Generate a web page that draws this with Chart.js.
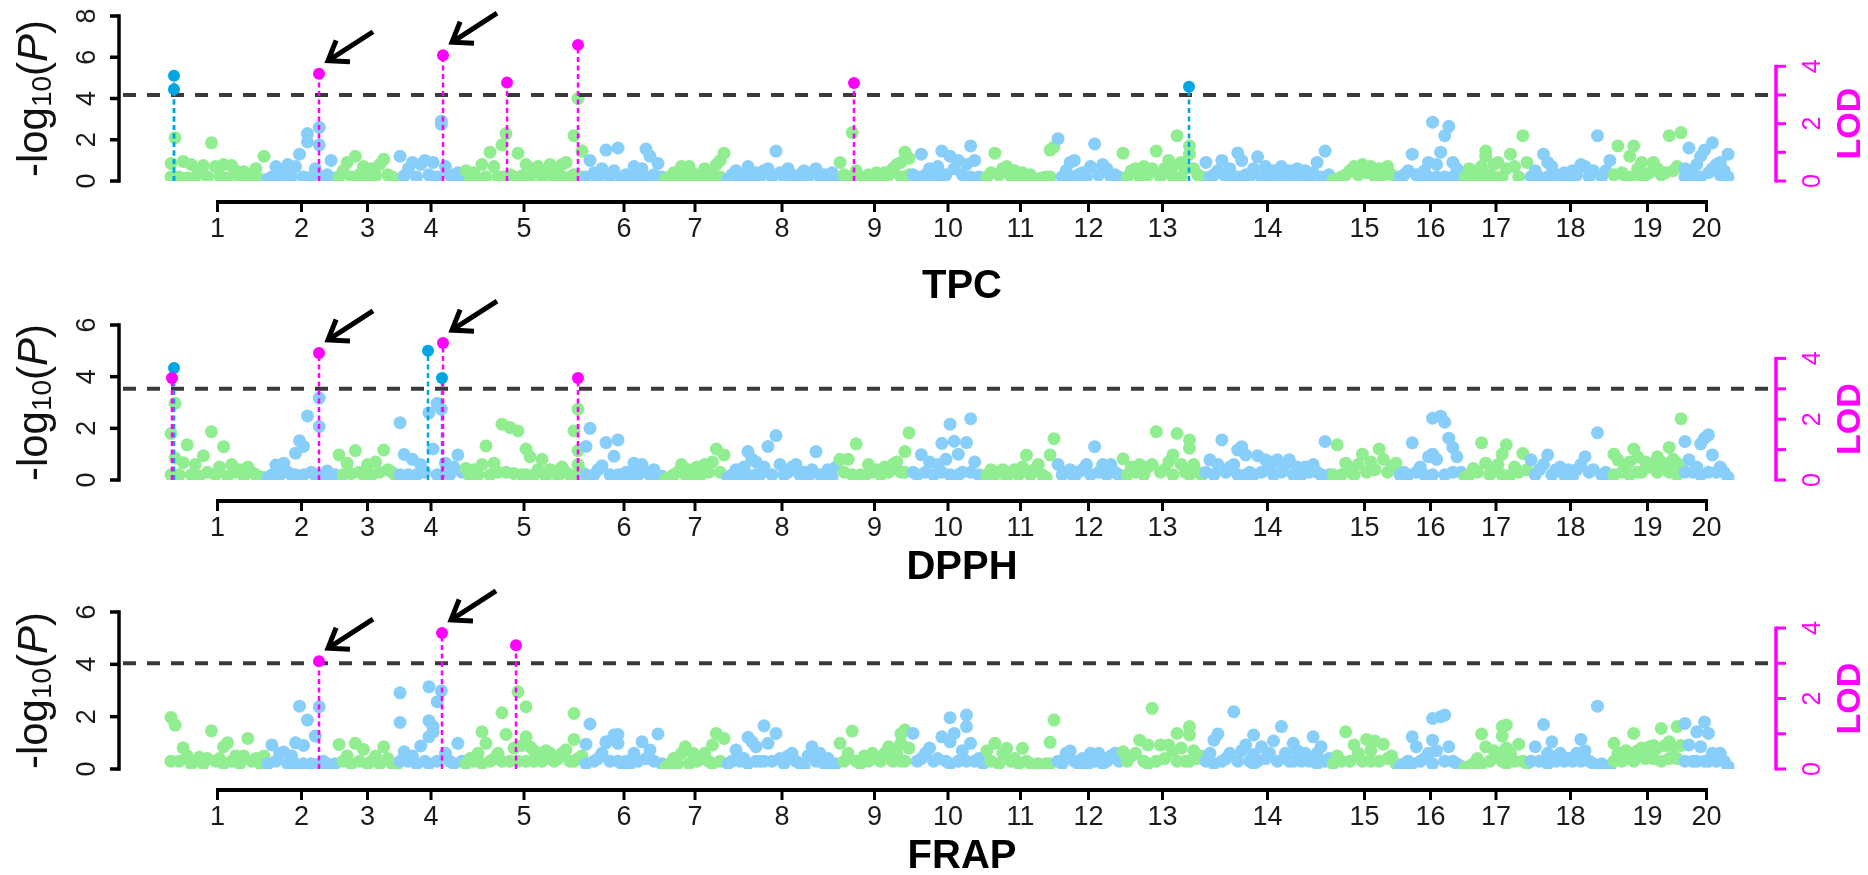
<!DOCTYPE html>
<html>
<head>
<meta charset="utf-8">
<title>Manhattan plots: TPC, DPPH, FRAP</title>
<script src="https://cdn.jsdelivr.net/npm/chart.js@4.4.1/dist/chart.umd.min.js"></script>
<style>
  html, body { margin: 0; padding: 0; background: #fff; }
  #wrap { position: relative; width: 1868px; height: 875px; overflow: hidden; }
  #wrap canvas { position: absolute; left: 0; }
</style>
</head>
<body>
<div id="wrap">
  <canvas id="tpcChart" width="1868" height="310" style="top:0px"></canvas>
  <canvas id="dpphChart" width="1868" height="300" style="top:290px"></canvas>
  <canvas id="frapChart" width="1868" height="295" style="top:580px"></canvas>
</div>
<script>
// chromosomes (lengths in Mb)
const chrLabels = ['1', '2', '3', '4', '5', '6', '7', '8', '9', '10',
  '11', '12', '13', '14', '15', '16', '17', '18', '19', '20'];
const chrLengths = [97, 71, 61, 66, 120, 80, 62, 112, 73, 74, 71, 65, 83, 127, 67, 65, 66, 83, 71, 47];

// -log10(P) per chromosome, SNPs in map order (a nested list = SNPs at about the same spot)
const tpcScores = [
  [[0.85, 0.2], 2.1, 0.2, 0.95, 0.15, 0.8, 0.2, 0.6, 0.75, 0.2, 1.85, 0.7, 0.25, 0.8, 0.15, 0.75, 0.5, 0.2, 0.45, 0.1, 0.2, 0.6, 0.1, 1.2],
  [0.1, 0.2, 0.7, 0.15, 0.5, 0.8, 0.2, 0.7, 1.3, 0.2, [2.3, 1.9], 0.2, 0.6, [2.6, 1.75], 0.2, 0.3, 1.0, 0.15],
  [0.2, 0.5, 0.9, 0.2, 1.2, 0.3, 0.7, 0.2, 0.6, 0.25, 0.8, 1.05, 0.3, 0.2, 0.1],
  [1.2, 0.25, 0.6, 0.9, 0.2, 0.8, 1.0, 0.3, 0.9, 0.2, [2.9, 2.75], 0.7, 0.3, 0.2, 0.4, 0.2],
  [0.5, 0.15, 0.4, 0.1, 0.8, 0.2, 1.4, 0.7, 0.2, [1.75, 0.2], 2.3, 0.3, 0.2, 1.35, 0.25, 0.8, 0.2, 0.6, 0.7, 0.2, 0.5, 0.8, 0.15, 0.5, [0.8, 0.2], 0.9, 0.2, [2.2, 0.3], 4.0, [1.45, 0.2]],
  [0.2, 1.0, 0.4, 0.15, 0.6, 1.5, 0.2, 0.5, 1.6, 0.1, 0.3, 0.2, 0.7, 0.2, 0.6, [1.55, 0.2], 1.2, 0.3, 0.85, 0.2],
  [0.1, 0.2, 0.4, 0.2, 0.7, 0.3, 0.7, 0.2, 0.3, 0.15, 0.6, 0.25, 0.3, 0.8, [1.0, 0.2], 1.35],
  [0.1, 0.3, 0.5, 0.2, 0.3, 0.7, 0.1, 0.4, 0.2, 0.5, 0.6, 0.2, 1.45, 0.4, 0.2, 0.6, 0.3, 0.1, 0.3, 0.5, 0.2, 0.4, 0.6, 0.2, 0.3, 0.1, 0.4, 0.2],
  [0.9, 0.3, 0.2, 2.35, 0.5, 0.2, 0.1, 0.3, 0.15, 0.4, 0.2, 0.4, 0.3, 0.6, 0.8, [0.9, 0.2], 1.4, [1.1, 0.3]],
  [0.3, 0.2, 1.3, 0.3, 0.6, 0.2, 0.7, [1.45, 0.2], 0.3, 1.2, 0.6, 1.0, 0.3, 0.8, [1.7, 0.2], 1.0, 0.2, 0.15],
  [0.2, 0.4, 1.35, 0.3, 0.6, 0.7, 0.25, 0.5, 0.2, 0.4, 0.15, 0.3, 0.1, 0.1, 0.15, 0.2, [1.5, 0.2], 1.65],
  [2.05, 0.2, 0.5, [0.9, 0.2], 1.0, 0.3, 0.4, 0.2, 0.7, 1.8, 0.3, 0.8, 0.6, 0.2, 0.3, 0.2],
  [1.35, 0.2, 0.5, 0.6, 0.2, 0.7, 0.3, 0.6, 1.45, 0.2, 0.6, 1.0, [0.7, 0.2], 2.2, [0.9, 0.2], 0.6, [1.7, 1.3], 0.6, 0.3, 0.2],
  [0.9, 0.2, 0.3, 0.5, 1.0, 0.2, 0.6, 0.2, [1.36, 0.2], 1.0, 0.3, 0.2, 0.6, 1.17, 0.2, 0.7, 0.2, 0.5, 0.3, 0.7, 0.2, 0.5, 0.3, 0.6, 0.2, 0.5, 0.1, 0.4, 0.9, 0.2, 1.45, 0.3],
  [0.05, 0.1, 0.2, 0.3, 0.5, 0.7, 0.3, 0.8, 0.4, 0.7, 0.2, 0.6, 0.3, 0.7, 0.3, 0.1],
  [0.2, 0.3, 0.5, 1.3, 0.3, 0.2, 0.5, [0.9, 0.2], 2.85, [0.8, 0.2], 1.4, [2.2, 0.2], 2.65, [0.9, 0.2], 0.6, 0.2],
  [0.2, 0.6, 0.2, 0.5, [0.7, 0.2], [1.45, 1.2], 0.3, [0.8, 0.2], 0.9, 0.2, 0.6, 1.3, 0.7, 0.2, 2.2, 0.9],
  [0.2, 0.5, 0.2, 1.3, [0.9, 0.2], 0.7, 0.3, 0.2, 0.4, 0.15, 0.5, 0.3, 0.8, 0.7, 0.2, 0.5, 2.2, 0.2, 0.5, 1.0],
  [0.3, 1.7, 0.4, 0.2, [1.2, 0.2], 1.7, 0.6, [0.9, 0.2], 0.3, 0.4, 0.9, 0.6, 0.3, 0.4, 2.2, 0.5, 0.7, 2.35],
  [[0.6, 0.2], [1.6, 0.5], 0.3, 0.8, [1.2, 0.2], 1.5, 0.4, [1.85, 0.6], 0.8, [0.9, 0.3], 0.5, [1.3, 0.2]]
];
const dpphScores = [
  [[1.8, 0.2], [2.97, 0.85], 0.2, 0.67, 1.36, 0.2, 0.6, 0.15, 0.94, 0.3, 1.87, 0.2, 0.5, 1.29, 0.15, 0.6, 0.3, 0.4, 0.15, 0.5, 0.3, 0.2, 0.1, 0.1],
  [0.1, 0.2, 0.58, 0.2, 0.65, 0.3, 0.2, [1.04, 0.2], 1.52, [1.3, 0.2], 2.48, 0.3, 0.2, [3.17, 2.07], 0.2, 0.35, 0.1, 0.2],
  [0.97, 0.2, 0.65, 0.25, 1.14, 0.3, 0.2, 0.6, 0.2, 0.7, 0.3, 1.16, 0.4, 0.3, 0.15],
  [[2.22, 0.2], 0.99, 0.2, 0.8, 0.2, 0.6, 0.3, 2.6, 1.2, [2.97, 0.2], 2.74, 0.65, 0.2, 0.5, 0.97, 0.3],
  [0.45, 0.15, 0.4, 0.2, 0.6, 1.32, 0.2, 0.65, 0.3, 2.16, 0.3, 2.03, 0.25, 1.9, 0.2, [1.2, 0.2], 0.9, 0.2, 0.4, 0.8, 0.15, 0.4, 0.35, 0.15, 0.5, 0.3, 0.2, 1.9, [2.74, 1.14, 0.6, 0.2], 0.3],
  [[1.3, 0.2], 2.0, 0.2, 0.4, 0.55, 1.45, 0.2, 0.92, [1.55, 0.2], 0.2, 0.3, 0.2, 0.65, 0.2, 0.6, 0.3, 0.2, 0.4, 0.1, 0.15],
  [0.05, 0.1, 0.2, 0.3, 0.6, 0.2, 0.4, 0.2, 0.5, 0.2, 0.6, 0.3, 0.7, 1.2, 0.3, 0.97],
  [0.1, 0.2, 0.4, 0.15, 0.5, [1.1, 0.2], 0.8, [0.7, 0.2], 0.2, 0.5, 1.3, 0.2, 1.72, 0.6, 0.2, 0.3, 0.5, 0.6, 0.2, 0.3, 0.1, 0.4, 1.1, 0.2, 0.1, 0.4, 0.1, 0.5],
  [0.8, 0.3, 0.8, 0.2, 1.4, 0.2, 0.15, 0.6, 0.3, 0.4, 0.2, 0.5, 0.3, 0.6, 0.7, 0.3, [1.1, 0.3], 1.83],
  [0.3, 0.2, 0.98, 0.3, 0.7, 0.2, 0.6, [1.42, 0.3], 0.8, [2.16, 0.2], 1.5, [1.0, 0.2], 0.3, 1.45, [2.37, 0.3], 0.7, 0.2, 0.15],
  [0.2, 0.4, 0.2, 0.3, 0.4, 0.1, 0.3, 0.4, 0.2, 0.5, 0.96, 0.2, 0.4, 0.6, 0.2, 0.1, 0.97, 1.6],
  [0.6, 0.2, 0.3, 0.4, 0.1, 0.3, 0.4, 0.6, 0.2, 1.29, 0.3, 0.6, 0.2, 0.6, 0.3, 0.2],
  [0.82, 0.2, 0.5, 0.3, 0.6, 0.2, 0.5, 0.6, 1.87, 0.3, 0.4, 0.7, [0.97, 0.2], 1.8, 0.6, 0.3, [1.55, 1.23, 0.2], 0.6, 0.3, 0.2],
  [0.3, 0.78, 0.2, 0.6, 1.55, 0.3, 0.5, 0.6, [1.16, 0.2], 1.29, [0.97, 0.2], 0.3, 0.2, 0.94, 0.3, 0.78, 0.4, [0.7, 0.2], 0.78, 0.3, 0.6, 0.78, 0.2, 0.5, 0.2, 0.5, 0.3, 0.6, 0.3, 0.2, 1.49, 0.2],
  [0.2, 1.36, 0.2, 0.65, 0.3, 0.2, 0.6, 1.0, 0.3, 0.7, 0.4, 1.2, 0.8, 0.3, 0.5, 0.65],
  [0.2, 0.3, 0.2, 1.44, 0.3, 0.5, 0.2, 0.9, [2.39, 1.0, 0.2], 0.8, 2.47, [2.24, 0.2], 1.62, [1.26, 0.3], 0.9, 0.3],
  [0.1, 0.2, 0.45, 0.3, 1.44, 0.65, 0.2, 0.4, 0.6, [1.0, 0.2], 1.36, 0.2, 0.5, 0.3, 1.03, 0.4],
  [0.78, 0.2, 0.4, 0.6, 0.97, 0.2, 0.4, 0.5, 0.2, 0.4, 0.15, 0.4, 0.6, 0.9, 0.3, 0.4, 1.83, 0.2, 0.3, 0.1],
  [[1.0, 0.2], 0.78, 0.3, 0.6, [0.7, 0.2], 1.2, [0.9, 0.3], 0.3, 0.7, 0.5, 0.6, [0.9, 0.3], 0.7, 0.6, [1.26, 0.3], 0.8, [0.65, 0.2], [2.37, 0.4]],
  [[1.49, 0.3], 0.78, 0.3, 0.5, [1.4, 0.2], 1.62, [1.75, 0.3], 0.97, 0.3, 0.5, 0.3, 0.1]
];
const frapScores = [
  [[1.97, 0.3], 1.68, 0.3, 0.81, 0.5, 0.2, 0.3, 0.45, 0.2, 0.4, 1.46, 0.3, 0.4, [0.85, 0.2], 1.0, 0.3, 0.5, 0.2, 0.5, 1.17, 0.3, 0.4, 0.2, 0.5],
  [0.2, 0.92, 0.3, 0.6, 0.65, 0.2, 0.5, [1.0, 0.2], 2.4, [0.9, 0.2], 1.87, 0.2, 1.26, [2.38, 0.2], 0.3, 0.2, 0.1, 0.2],
  [0.94, 0.3, 0.5, 0.2, 0.98, 0.3, 0.75, 0.2, 0.3, 0.5, 0.2, 0.85, 0.4, 0.2, 0.1],
  [[2.91, 1.78, 0.3], 0.66, 0.3, 0.5, 0.2, 0.88, 0.3, [3.14, 1.84, 1.23, 0.2], [1.62, 1.42], [2.57, 0.3], 2.99, 0.6, 0.3, 0.2, 0.98, 0.3],
  [0.2, 0.4, 0.3, 0.6, [1.42, 0.2], 0.98, 0.3, 0.4, 0.6, [2.15, 0.3], 1.32, 0.3, 0.8, [2.95, 0.3], 0.9, [2.38, 1.23, 0.3], 0.85, [0.7, 0.3], 0.6, 0.3, 0.7, 0.6, 0.3, 0.4, 0.6, 0.73, 0.3, [2.12, 1.13, 0.3], 0.4, 0.5],
  [[0.95, 0.2], 1.72, 0.3, 0.4, 0.6, [1.0, 1.04], 0.3, 1.3, [1.32, 0.98, 0.3], 0.2, 0.3, 0.2, 0.6, 0.3, 1.04, 0.4, 0.73, 0.3, 1.34, 0.2],
  [0.1, 0.2, 0.4, 0.2, 0.6, 0.85, 0.2, 0.6, 0.3, 0.4, 0.6, 0.3, [0.92, 0.2], 1.36, 0.3, 1.17],
  [0.2, 0.3, 0.73, 0.3, 0.4, [1.21, 0.2], 1.04, [0.85, 0.3], 0.3, [1.65, 0.3], 0.98, 0.3, 1.36, 0.4, 0.2, 0.5, 0.6, 0.3, 0.2, 0.1, 0.5, 0.85, 0.3, 0.6, 0.2, 0.4, 0.1, 0.2],
  [0.98, 0.3, 0.6, 1.45, 0.3, 0.2, 0.5, 0.3, 0.6, 0.4, 0.3, 0.6, 0.85, 0.3, 0.6, [0.98, 1.34, 0.3], [1.49, 0.3], 0.8],
  [1.36, 0.3, 0.4, 0.6, 0.8, 0.3, 0.4, 1.23, 0.3, [1.96, 1.04, 0.2], 1.36, 0.3, 0.7, [1.62, 2.06, 0.3], 0.98, 0.3, 0.4, 0.2],
  [0.7, 0.3, 0.98, 0.2, 0.6, 0.79, 0.3, 0.4, 0.2, 0.79, 0.3, 0.2, 0.1, 0.2, 0.1, 0.2, [1.02, 0.2], 1.87],
  [0.3, 0.2, 0.6, 0.69, 0.3, 0.2, 0.4, 0.1, 0.6, 0.3, 0.6, 0.2, 0.3, 0.5, 0.6, 0.3],
  [0.66, 0.3, 0.5, 0.6, 1.1, 0.3, [0.92, 0.2], 2.32, 0.3, 0.92, 0.4, 0.92, 0.7, [1.36, 0.3], 0.8, 0.3, [1.62, 1.3, 0.3], 0.7, 0.4, 0.5],
  [0.3, 0.6, [1.1, 0.2], 1.34, 0.3, 0.4, 0.6, 2.19, 0.3, 0.7, 0.92, 0.3, [1.3, 0.55, 0.2], 0.3, 0.85, 0.4, 0.6, 1.07, 0.3, 1.62, 0.6, 0.3, [0.98, 0.3], 0.7, 0.3, 0.6, 0.3, 1.23, [0.6, 0.2], 0.85, 0.3, 0.4],
  [0.2, 0.5, 0.3, 1.42, 0.3, 0.92, 0.6, 0.3, 1.13, [0.7, 0.3], 1.07, 0.3, 0.95, 0.4, 0.5, 0.2],
  [0.1, 0.2, 0.3, [1.23, 0.2], 0.85, 0.3, 0.4, 0.6, [1.93, 1.1, 0.2], 0.7, 2.0, [2.06, 0.3], 0.85, 0.3, 0.2, 0.1],
  [0.05, 0.1, 0.2, 0.4, [1.34, 0.2], 0.85, 0.3, 0.7, 0.6, [1.62, 1.26, 0.3], [1.68, 0.8, 0.2], 0.6, 0.3, 0.95, 0.3, 0.2],
  [0.3, 0.85, 0.3, 1.7, [0.6, 0.2], 1.04, 0.3, 0.6, 0.3, 0.4, 0.3, 0.6, [1.13, 0.3], 0.7, 0.3, 0.2, 2.4, 0.2, 0.1, 0.05],
  [[0.98, 0.3], 0.6, 0.3, 0.7, 0.6, [1.36, 0.3], 0.7, 0.8, 0.4, 0.85, [0.9, 0.4], 0.8, [1.55, 0.3], 0.9, [1.04, 0.4], 0.8, [1.62, 0.4], 0.9],
  [[1.74, 0.3], 0.92, 0.3, [1.42, 0.3], 0.85, [1.8, 0.3], [1.36, 0.3], 0.6, 0.3, 0.6, 0.3, 0.1]
];

// significant hits: chromosome, position in chromosome (Mb), -log10(P), kind (g = GWAS, q = QTL overlap)
const tpcPeakChr = [1, 1, 13, 2, 4, 5, 5, 9];
const tpcPeakPos = [5, 5, 68, 53, 45, 43, 114, 16];
const tpcPeakVal = [5.1, 4.45, 4.57, 5.2, 6.1, 4.77, 6.6, 4.75];
const tpcPeakKind = ['g', 'g', 'g', 'q', 'q', 'q', 'q', 'q'];
const tpcArrows = [3, 4];

const dpphPeakChr = [1, 4, 4, 1, 2, 4, 5];
const dpphPeakPos = [5, 30, 44, 3, 53, 45, 114];
const dpphPeakVal = [4.34, 5.0, 3.95, 3.95, 4.92, 5.3, 3.95];
const dpphPeakKind = ['g', 'g', 'g', 'q', 'q', 'q', 'q'];
const dpphArrows = [4, 5];

const frapPeakChr = [2, 4, 5];
const frapPeakPos = [53, 44, 52];
const frapPeakVal = [4.12, 5.2, 4.73];
const frapPeakKind = ['q', 'q', 'q'];
const frapArrows = [0, 1];

// thresholds and tick labels
const tpcThreshold = 4.17;
const dpphThreshold = 3.53;
const frapThreshold = 4.04;
const lodThreshold = 3;
const tpcTicks = [0, 2, 4, 6, 8];
const dpphTicks = [0, 2, 4, 6];
const frapTicks = [0, 2, 4, 6];
const lodTicks = [0, 1, 2, 3, 4];
const lodLabels = [0, 2, 4];

const FONT = '"Liberation Sans", Arial, sans-serif';
const SNP_GREEN = '#90EE90';
const SNP_BLUE = '#87CEFA';
const QTL_PINK = '#FF00FF';
const GWAS_BLUE = '#00A6E4';

const chrStarts = [];
chrLengths.reduce((acc, len) => { chrStarts.push(acc); return acc + len; }, 0);
const genomeLength = chrLengths.reduce((a, b) => a + b, 0);
const chrMids = chrLengths.map((len, i) => chrStarts[i] + len / 2);

function buildSnps(scores) {
  const pts = [];
  const cols = [];
  scores.forEach((chr, c) => {
    const step = chrLengths[c] / chr.length;
    chr.forEach((slot, i) => {
      const x = chrStarts[c] + (i + 0.5) * step;
      [].concat(slot).forEach(v => {
        pts.push({ x, y: v });
        cols.push(c % 2 ? SNP_BLUE : SNP_GREEN);
      });
    });
  });
  return { pts, cols };
}

function rotText(ctx, text, x, y, font, color) {
  ctx.save();
  ctx.translate(x, y);
  ctx.rotate(-Math.PI / 2);
  ctx.font = font;
  ctx.fillStyle = color;
  ctx.textAlign = 'center';
  ctx.textBaseline = 'middle';
  ctx.fillText(text, 0, 0);
  ctx.restore();
}

// "-log10(P)" written bottom to top
function drawYTitle(ctx, x, y) {
  const big = '42px ' + FONT, small = '28px ' + FONT, ital = 'italic 42px ' + FONT;
  const parts = [['-log', big, 0], ['10', small, 4], ['(', big, 0], ['P', ital, 0], [')', big, 0]];
  ctx.save();
  ctx.translate(x, y);
  ctx.rotate(-Math.PI / 2);
  ctx.fillStyle = '#111';
  ctx.textBaseline = 'alphabetic';
  ctx.textAlign = 'left';
  let total = 0;
  parts.forEach(p => { ctx.font = p[1]; total += ctx.measureText(p[0]).width; });
  let cx = -total / 2;
  parts.forEach(p => {
    ctx.font = p[1];
    ctx.fillText(p[0], cx, p[2]);
    cx += ctx.measureText(p[0]).width;
  });
  ctx.restore();
}

function drawArrow(ctx, tx, ty) {
  const dx = 45, dy = -29;
  const ang = Math.atan2(dy, dx);
  ctx.save();
  ctx.strokeStyle = '#000';
  ctx.lineWidth = 5;
  ctx.lineCap = 'butt';
  ctx.lineJoin = 'miter';
  ctx.beginPath();
  ctx.moveTo(tx + dx, ty + dy);
  ctx.lineTo(tx + 3 * Math.cos(ang), ty + 3 * Math.sin(ang));
  ctx.stroke();
  const hl = 22, spread = 0.62;
  ctx.beginPath();
  ctx.moveTo(tx + hl * Math.cos(ang - spread), ty + hl * Math.sin(ang - spread));
  ctx.lineTo(tx, ty);
  ctx.lineTo(tx + hl * Math.cos(ang + spread), ty + hl * Math.sin(ang + spread));
  ctx.stroke();
  ctx.restore();
}

function makeDecor(panel) {
  return {
    id: 'manhattanDecor',
    afterDatasetDraw(chart, args) {
      if (args.index !== 0) return;
      const { ctx, chartArea: a, scales: { x, y } } = chart;
      const axisX = a.left - 50, lodX = a.right + 46;
      ctx.save();
      // significance line
      const ty = y.getPixelForValue(panel.threshold);
      ctx.strokeStyle = '#3a3a3a';
      ctx.lineWidth = 4;
      ctx.setLineDash([13, 11]);
      ctx.beginPath();
      ctx.moveTo(axisX + 4, ty);
      ctx.lineTo(lodX, ty);
      ctx.stroke();
      // dashed stems under the hits
      ctx.lineWidth = 2.5;
      ctx.setLineDash([5, 3.5]);
      panel.peakChr.forEach((c, i) => {
        const px = x.getPixelForValue(chrStarts[c - 1] + panel.peakPos[i]);
        ctx.strokeStyle = panel.peakKind[i] === 'q' ? QTL_PINK : GWAS_BLUE;
        ctx.beginPath();
        ctx.moveTo(px, y.getPixelForValue(0));
        ctx.lineTo(px, y.getPixelForValue(panel.peakVal[i]));
        ctx.stroke();
      });
      ctx.restore();
    },
    afterDraw(chart) {
      const { ctx, chartArea: a, scales: { x, y, lod } } = chart;
      const axisX = a.left - 50, lodX = a.right + 46;
      const y0 = y.getPixelForValue(0);
      const yTop = y.getPixelForValue(panel.ticks[panel.ticks.length - 1]);
      ctx.save();
      ctx.strokeStyle = '#000';
      ctx.lineCap = 'square';

      // left axis
      ctx.lineWidth = 3.5;
      ctx.beginPath();
      ctx.moveTo(axisX, y0);
      ctx.lineTo(axisX, yTop);
      ctx.stroke();
      ctx.lineCap = 'butt';
      panel.ticks.forEach(t => {
        const py = y.getPixelForValue(t);
        ctx.beginPath();
        ctx.moveTo(axisX - 9, py);
        ctx.lineTo(axisX, py);
        ctx.stroke();
        rotText(ctx, String(t), axisX - 31, py, '27px ' + FONT, '#1a1a1a');
      });
      drawYTitle(ctx, axisX - 72, (y0 + yTop) / 2);

      // chromosome axis
      const axY = a.bottom + 21;
      const xFirst = x.getPixelForValue(chrMids[0]);
      const xLast = x.getPixelForValue(chrMids[chrMids.length - 1]);
      ctx.lineWidth = 4;
      ctx.beginPath();
      ctx.moveTo(xFirst - 1.5, axY);
      ctx.lineTo(xLast + 1.5, axY);
      ctx.stroke();
      ctx.lineWidth = 3;
      ctx.font = '27px ' + FONT;
      ctx.fillStyle = '#1a1a1a';
      ctx.textAlign = 'center';
      ctx.textBaseline = 'middle';
      chrMids.forEach((m, i) => {
        const px = x.getPixelForValue(m);
        ctx.beginPath();
        ctx.moveTo(px, axY);
        ctx.lineTo(px, axY + 10);
        ctx.stroke();
        ctx.fillText(chrLabels[i], px, a.bottom + 49);
      });
      ctx.font = 'bold 40px ' + FONT;
      ctx.fillStyle = '#000';
      ctx.fillText(panel.title, (xFirst + xLast) / 2, a.bottom + panel.titleGap);

      // LOD axis
      const l0 = lod.getPixelForValue(0);
      const lTop = lod.getPixelForValue(lodTicks[lodTicks.length - 1]);
      ctx.strokeStyle = QTL_PINK;
      ctx.lineWidth = 3.5;
      ctx.beginPath();
      ctx.moveTo(lodX, l0 + 1.5);
      ctx.lineTo(lodX, lTop - 1.5);
      ctx.stroke();
      ctx.lineWidth = 3;
      lodTicks.forEach(t => {
        const py = lod.getPixelForValue(t);
        ctx.beginPath();
        ctx.moveTo(lodX, py);
        ctx.lineTo(lodX + 10, py);
        ctx.stroke();
      });
      lodLabels.forEach(t => {
        rotText(ctx, String(t), lodX + 37, lod.getPixelForValue(t), '25px ' + FONT, QTL_PINK);
      });
      rotText(ctx, 'LOD', lodX + 75, (l0 + lTop) / 2, 'bold 34px ' + FONT, QTL_PINK);

      // arrows to the hits shared by the traits
      panel.arrows.forEach(i => {
        const px = x.getPixelForValue(chrStarts[panel.peakChr[i] - 1] + panel.peakPos[i]);
        const py = y.getPixelForValue(panel.peakVal[i]);
        drawArrow(ctx, px + 9, py - 13);
      });
      ctx.restore();
    }
  };
}

function drawPanel(panel) {
  const snps = buildSnps(panel.scores);
  const peaks = panel.peakChr.map((c, i) => ({ x: chrStarts[c - 1] + panel.peakPos[i], y: panel.peakVal[i] }));
  const yMax = panel.ticks[panel.ticks.length - 1];

  new Chart(document.getElementById(panel.id), {
    type: 'scatter',
    data: {
      datasets: [
        {
          label: panel.title + ' SNPs',
          data: snps.pts,
          order: 2,
          pointRadius: 6.5,
          pointHoverRadius: 6.5,
          pointBorderWidth: 0,
          pointBackgroundColor: snps.cols,
          clip: { left: false, top: false, right: false, bottom: 0 }
        },
        {
          label: panel.title + ' hits',
          data: peaks,
          order: 1,
          pointRadius: 6,
          pointHoverRadius: 6,
          pointBorderWidth: 0,
          pointBackgroundColor: panel.peakKind.map(k => (k === 'q' ? QTL_PINK : GWAS_BLUE)),
          clip: false
        }
      ]
    },
    options: {
      responsive: false,
      animation: false,
      devicePixelRatio: 1,
      events: [],
      layout: { autoPadding: false, padding: panel.padding },
      plugins: {
        legend: { display: false },
        tooltip: { enabled: false }
      },
      scales: {
        x: { type: 'linear', min: 0, max: genomeLength, display: false },
        y: { type: 'linear', min: 0, max: yMax, display: false },
        lod: { type: 'linear', position: 'right', min: 0, max: lodThreshold * yMax / panel.threshold, display: false }
      }
    },
    plugins: [makeDecor(panel)]
  });
}

drawPanel({
  id: 'tpcChart', title: 'TPC', scores: tpcScores, ticks: tpcTicks, threshold: tpcThreshold,
  peakChr: tpcPeakChr, peakPos: tpcPeakPos, peakVal: tpcPeakVal, peakKind: tpcPeakKind, arrows: tpcArrows,
  padding: { left: 169, right: 138, top: 16, bottom: 129 }, titleGap: 106
});
drawPanel({
  id: 'dpphChart', title: 'DPPH', scores: dpphScores, ticks: dpphTicks, threshold: dpphThreshold,
  peakChr: dpphPeakChr, peakPos: dpphPeakPos, peakVal: dpphPeakVal, peakKind: dpphPeakKind, arrows: dpphArrows,
  padding: { left: 169, right: 138, top: 35, bottom: 110 }, titleGap: 88
});
drawPanel({
  id: 'frapChart', title: 'FRAP', scores: frapScores, ticks: frapTicks, threshold: frapThreshold,
  peakChr: frapPeakChr, peakPos: frapPeakPos, peakVal: frapPeakVal, peakKind: frapPeakKind, arrows: frapArrows,
  padding: { left: 169, right: 138, top: 32, bottom: 106 }, titleGap: 88
});
</script>
</body>
</html>
